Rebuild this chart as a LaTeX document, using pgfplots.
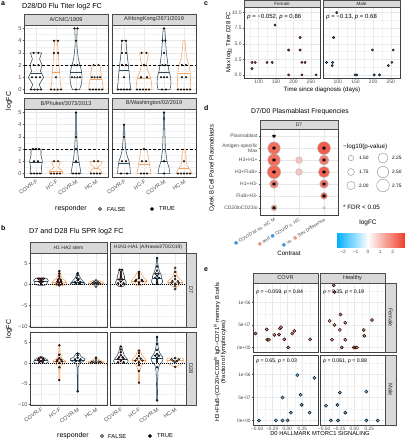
\documentclass[border=0pt]{standalone}
\usepackage{pgfplots}
\pgfplotsset{compat=1.18}
\usepackage{fontspec}
\setmainfont{Liberation Sans}
\newfontfamily\dv{DejaVu Sans}
\newcommand\fs[1]{\fontsize{#1}{#1}\selectfont}
\definecolor{COVR}{RGB}{47,72,88}
\definecolor{HC}{RGB}{244,164,96}
\definecolor{Fd}{RGB}{150,32,30}
\definecolor{Fl}{RGB}{214,168,158}
\definecolor{Md}{RGB}{30,92,142}
\definecolor{Ml}{RGB}{150,190,215}
\definecolor{stripg}{RGB}{217,217,217}
\definecolor{cF}{RGB}{214,80,60}
\definecolor{cM}{RGB}{50,140,210}
\definecolor{eF}{RGB}{228,122,104}
\definecolor{eM}{RGB}{92,170,225}
\definecolor{Mb}{RGB}{70,150,220}
\definecolor{Fp}{RGB}{232,150,140}
\pgfplotsset{colormap={lfc}{rgb255(0cm)=(0,175,255); rgb255(2.5cm)=(255,255,255); rgb255(5.5cm)=(238,60,40)}}
\pgfplotsset{
  gg/.style={scale only axis, anchor=north west,
    axis line style={draw=black!75, line width=0.45pt},
    tick align=outside, major tick length=1.4pt, minor tick length=0pt,
    tick style={draw=black!65, line width=0.4pt},
    xtick pos=lower, ytick pos=left,
    grid=major, major grid style={draw=black!9, line width=0.45pt},
    ticklabel style={font=\fs{5.6}, text=black!70, inner sep=0.8pt},
    /pgf/number format/assume math mode=true},
  ggminor/.style={grid=both, minor grid style={draw=black!5, line width=0.25pt}},
  viol/.style={xmin=0.4, xmax=4.6, xtick={1,2,3,4}},
  noxlab/.style={xmajorticks=false, xticklabels={,,,,,}},
  noylab/.style={ymajorticks=false, yticklabels={,,,,,}},
  catlab/.style={xticklabels={COVR-F,HC-F,COVR-M,HC-M}, xticklabel style={rotate=35, anchor=north east, font=\fs{5.5}, text=black!70, inner sep=0.5pt}},
  pt/.style={only marks, mark=*, mark size=0.85pt, mark options={draw=none, fill=#1}},
  ptb/.style={only marks, mark=*, mark size=1.0pt, mark options={draw=none, fill=#1}},
}
\newcommand\violin[5]{%
  \pgfmathsetmacro\vxa{#1-#4}\pgfmathsetmacro\vxb{#1+#4}%
  \xdef\vL{(\vxa,#3)}\xdef\vR{(\vxb,#3)(\vxa,#3)}%
  \foreach \yy/\ww in {#5}{%
    \pgfmathsetmacro\vxa{#1-\ww}\pgfmathsetmacro\vxb{#1+\ww}%
    \xdef\vL{\vL(\vxa,\yy)}\xdef\vR{(\vxb,\yy)\vR}}%
  \edef\vtemp{\noexpand\addplot[draw=#2, line width=0.55pt, mark=none] coordinates {\vL\vR};}%
  \vtemp}
\newcommand\qline[4]{%
  \pgfmathsetmacro\vxa{#1-#3}\pgfmathsetmacro\vxb{#1+#3}%
  \edef\vtemp{\noexpand\addplot[draw=#4, line width=0.5pt, mark=none] coordinates {(\vxa,#2)(\vxb,#2)};}\vtemp}
\newcommand\strip[6][5.6]{%
  \draw[fill=stripg, draw=black!70, line width=0.45pt] (#2,#3) rectangle (#4,#5);
  \node[font=\fs{#1}, text=black!85, inner sep=0pt] at ({(#2+#4)/2},{(#3+#5)/2}) {#6};}
\newcommand\vstrip[6][5.6]{%
  \draw[fill=stripg, draw=black!70, line width=0.45pt] (#2,#3) rectangle (#4,#5);
  \node[font=\fs{#1}, text=black!85, inner sep=0pt, rotate=-90] at ({(#2+#4)/2},{(#3+#5)/2}) {#6};}
\newcommand\dotc[1]{{\dv\textcolor{#1}{●}}}
\begin{document}
\begin{tikzpicture}
\useasboundingbox (0,0) rectangle (406pt,-440pt);
% ================= panel a =================
\begin{axis}[gg, ggminor, viol, noxlab, at={(24pt,-25pt)}, width=84pt, height=68pt, ymin=-0.28, ymax=5.28,
  ytick={0,1,2,3,4,5}, yticklabels={0,1,2,3,4,5}, minor ytick={0.5,1.5,2.5,3.5,4.5}]
\violin{1}{COVR}{0}{0.28}{0.4/0.16, 1/0.38, 1.5/0.22, 2/0.3, 2.5/0.18, 3/0.28}
\qline{1}{1.35}{0.3}{COVR}
\violin{2}{HC}{0}{0.28}{0.5/0.22, 1/0.2, 1.5/0.18, 2/0.15, 3/0.12, 3.5/0.09, 4/0.06}
\qline{2}{1.4}{0.18}{HC}
\violin{3}{COVR}{0}{0.18}{0.5/0.28, 1/0.3, 1.5/0.28, 2/0.2, 2.5/0.12, 3/0.08, 3.5/0.05, 4/0.04, 4.5/0.05, 5/0.06}
\qline{3}{1.45}{0.28}{COVR}
\violin{4}{HC}{0}{0.38}{0.4/0.34, 1/0.28, 1.5/0.24, 2/0.2}
\qline{4}{0.85}{0.3}{HC}
\addplot[black, line width=0.6pt, dash pattern=on 2.6pt off 2pt] coordinates {(0.4,2)(4.6,2)};
\addplot[pt=Fd] coordinates {(0.88,3)(1.12,3)(0.88,2)(1.12,2)(1.9,4)(2.1,4)(1.9,3)(2.1,3)};
\addplot[pt=Fl] coordinates {(0.8,1)(1,1)(1.2,1)(0.75,0)(0.92,0)(1.08,0)(1.25,0)(2,1)(1.75,0)(1.92,0)(2.08,0)(2.25,0)};
\addplot[pt=Md] coordinates {(2.92,5)(3.08,5)(3,4)(2.92,2)(3.08,2)};
\addplot[pt=Ml] coordinates {(2.8,1)(2.93,1)(3.07,1)(3.2,1)(3,0)(3.88,2)(4.12,2)(3.8,1)(3.93,1)(4.07,1)(4.2,1)(3.7,0)(3.85,0)(4,0)(4.15,0)(4.3,0)};
\end{axis}
\begin{axis}[gg, ggminor, viol, noxlab, noylab, at={(112pt,-25pt)}, width=84pt, height=68pt, ymin=-0.28, ymax=5.28,
  ytick={0,1,2,3,4,5}, minor ytick={0.5,1.5,2.5,3.5,4.5}]
\violin{1}{COVR}{0}{0.35}{0.5/0.3, 1/0.28, 1.5/0.25, 2/0.22, 2.5/0.18, 3/0.15, 3.5/0.12, 4/0.1}
\qline{1}{1.55}{0.25}{COVR}
\violin{2}{HC}{0}{0.4}{0.5/0.38, 1/0.33, 1.5/0.2, 2/0.12, 2.5/0.18, 3/0.22}
\qline{2}{0.95}{0.33}{HC}
\violin{3}{COVR}{0}{0.3}{0.5/0.35, 1/0.33, 1.5/0.25, 2/0.2, 3/0.12, 4/0.08, 5/0.04}
\qline{3}{1.4}{0.26}{COVR}
\violin{4}{HC}{0}{0.35}{0.5/0.33, 1/0.32, 1.5/0.3, 2/0.25, 2.5/0.15, 3/0.1, 3.5/0.07, 4/0.05}
\qline{4}{1.3}{0.3}{HC}
\addplot[black, line width=0.6pt, dash pattern=on 2.6pt off 2pt] coordinates {(0.4,2)(4.6,2)};
\addplot[pt=Fd] coordinates {(0.9,4)(1.1,4)(0.9,3)(1.1,3)(0.9,2)(1.1,2)(1.88,3)(2.12,3)(2,2)(1.85,1)(2.15,1)};
\addplot[pt=Fl] coordinates {(1,1)(0.7,0)(0.85,0)(1,0)(1.15,0)(1.3,0)(1.65,0)(1.8,0)(1.95,0)(2.1,0)(2.25,0)};
\addplot[pt=Md] coordinates {(3,5)(2.93,4)(3.07,4)(3,3)(2.92,2)(3.08,2)};
\addplot[pt=Ml] coordinates {(2.85,1)(3,1)(3.15,1)(2.9,0)(3.1,0)(3.9,2)(4.1,2)(3.9,1)(4.1,1)(3.7,0)(3.85,0)(4,0)(4.15,0)(4.3,0)};
\end{axis}
\begin{axis}[gg, ggminor, viol, catlab, at={(24pt,-109pt)}, width=84pt, height=68pt, ymin=-0.28, ymax=5.28,
  ytick={0,1,2,3,4,5}, yticklabels={0,1,2,3,4,5}, minor ytick={0.5,1.5,2.5,3.5,4.5}]
\violin{1}{COVR}{0}{0.3}{0.5/0.27, 1/0.32, 1.5/0.25, 2/0.25}
\qline{1}{0.9}{0.32}{COVR}
\violin{2}{HC}{0}{0.35}{0.25/0.3, 0.5/0.12, 0.75/0.18, 1/0.22}
\qline{2}{0.15}{0.33}{HC}
\violin{3}{COVR}{0}{0.25}{0.5/0.2, 1/0.15, 1.5/0.1, 2/0.07, 3/0.04, 4/0.03, 5/0.03}
\qline{3}{0.9}{0.16}{COVR}
\violin{4}{HC}{0}{0.3}{0.25/0.25, 0.5/0.08, 0.75/0.25, 1/0.3}
\qline{4}{0.45}{0.1}{HC}
\addplot[black, line width=0.6pt, dash pattern=on 2.6pt off 2pt] coordinates {(0.4,2)(4.6,2)};
\addplot[pt=Fd] coordinates {(0.85,2)(1,2)(1.15,2)(0.9,1)(1.1,1)(1.75,0)(1.9,0)(2.05,0)(2.2,0)};
\addplot[pt=Fl] coordinates {(0.75,0)(0.9,0)(1.05,0)(1.2,0)(1.9,1)(2.1,1)};
\addplot[pt=Md] coordinates {(3,5)(3,3)(3,2)(3,1)};
\addplot[pt=Ml] coordinates {(2.85,0)(3,0)(3.15,0)(3.9,1)(4.1,1)(3.75,0)(3.9,0)(4.05,0)(4.2,0)};
\end{axis}
\begin{axis}[gg, ggminor, viol, catlab, noylab, at={(112pt,-109pt)}, width=84pt, height=68pt, ymin=-0.28, ymax=5.28,
  ytick={0,1,2,3,4,5}, minor ytick={0.5,1.5,2.5,3.5,4.5}]
\violin{1}{COVR}{0}{0.32}{0.5/0.3, 1/0.25, 1.5/0.15, 2/0.08, 3/0.04, 4/0.03}
\qline{1}{0.85}{0.26}{COVR}
\violin{2}{HC}{0}{0.35}{0.5/0.3, 1/0.25, 1.5/0.2, 2/0.15}
\qline{2}{0.8}{0.26}{HC}
\violin{3}{COVR}{0}{0.3}{0.5/0.25, 1/0.15, 2/0.07, 3/0.05, 4/0.03, 5/0.02}
\qline{3}{1.0}{0.15}{COVR}
\violin{4}{HC}{0}{0.4}{0.3/0.3, 0.7/0.15, 1/0.1, 1.5/0.1, 2/0.05}
\qline{4}{0.4}{0.27}{HC}
\addplot[black, line width=0.6pt, dash pattern=on 2.6pt off 2pt] coordinates {(0.4,2)(4.6,2)};
\addplot[pt=Fd] coordinates {(1,4)(1,3)(0.9,1)(1.1,1)(0.85,0)(1.15,0)};
\addplot[pt=Fl] coordinates {(2,2)(1.9,1)(2.1,1)(1.85,0)(2,0)(2.15,0)};
\addplot[pt=Md] coordinates {(3,5)(3,1)(3,0)};
\addplot[pt=Ml] coordinates {(4,1)(3.7,0)(3.85,0)(4,0)(4.15,0)(4.3,0)};
\end{axis}
% ================= panel b =================
\begin{axis}[gg, ggminor, viol, noxlab, at={(30pt,-253pt)}, width=77pt, height=74pt, ymin=-10.1, ymax=7.5,
  ytick={-10,-5,0,5}, yticklabels={−10,−5,0,5}, minor ytick={-7.5,-2.5,2.5}]
\violin{1}{COVR}{-0.2}{0.15}{0/0.3, 0.5/0.36, 1/0.4, 1.5/0.3}
\qline{1}{0.7}{0.38}{COVR}
\violin{2}{HC}{-0.3}{0.05}{0/0.35, 0.5/0.4, 1/0.3, 1.5/0.15, 2/0.1, 2.5/0.06, 3.2/0.03}
\qline{2}{0.6}{0.4}{HC}
\violin{3}{COVR}{0}{0.2}{0.3/0.4, 0.7/0.3, 1/0.25, 1.5/0.15, 2/0.1, 2.7/0.03}
\qline{3}{0.5}{0.36}{COVR}
\violin{4}{HC}{-0.6}{0.03}{-0.2/0.1, 0/0.3, 0.3/0.42, 0.6/0.35, 1/0.15}
\qline{4}{0.3}{0.42}{HC}
\addplot[black, line width=0.5pt, dash pattern=on 0.8pt off 1.2pt] coordinates {(0.4,0)(4.6,0)};
\addplot[ptb=Fd] coordinates {(0.85,1.4)(0.95,1.4)(1.05,1.4)(1.15,1.4)(1,1.0)(0.9,0.7)(1.1,0.7)(1,0.4)(1,0.1)
 (2,3.2)(2,2.6)(2,2.0)(2,1.5)(1.92,1.1)(2.08,1.1)(1.9,0.7)(2.1,0.7)(2,0.4)(1.85,0.1)(2.15,0.1)(2,-0.2)};
\addplot[ptb=Md] coordinates {(3,2.7)(3,2.2)(2.95,1.6)(3.05,1.3)(3,1.0)(2.85,0.6)(3.15,0.6)(2.9,0.3)(3.1,0.3)};
\addplot[ptb=Ml] coordinates {(4,1.0)(3.9,0.6)(4.1,0.6)(3.8,0.3)(4,0.3)(4.2,0.3)(3.9,0.1)(4.1,0.1)(4,-0.5)};
\end{axis}
\begin{axis}[gg, ggminor, viol, noxlab, noylab, at={(110pt,-253pt)}, width=76pt, height=74pt, ymin=-10.1, ymax=7.5,
  ytick={-10,-5,0,5}, minor ytick={-7.5,-2.5,2.5}]
\violin{1}{COVR}{-0.5}{0.1}{0/0.25, 0.5/0.3, 1/0.25, 1.5/0.2, 2/0.2, 2.5/0.15, 3/0.12, 3.5/0.1}
\qline{1}{1.3}{0.22}{COVR}
\violin{2}{HC}{-0.3}{0.08}{0/0.25, 0.5/0.4, 1/0.42, 1.5/0.3, 2/0.2, 2.5/0.15, 3/0.1}
\qline{2}{0.9}{0.42}{HC}
\violin{3}{COVR}{0}{0.2}{0.5/0.3, 1/0.3, 1.5/0.25, 2/0.25, 2.5/0.2, 3/0.15, 4/0.08, 5/0.04, 6.3/0.02}
\qline{3}{1.6}{0.25}{COVR}
\violin{4}{HC}{-1.2}{0.03}{-0.5/0.1, 0/0.3, 0.5/0.42, 1/0.35, 1.5/0.2, 2/0.12, 3/0.06, 4/0.03}
\qline{4}{0.6}{0.42}{HC}
\addplot[black, line width=0.5pt, dash pattern=on 0.8pt off 1.2pt] coordinates {(0.4,0)(4.6,0)};
\addplot[ptb=Fd] coordinates {(0.93,3.5)(1.07,3.5)(1,3.0)(1,2.5)(1,2.0)(1,1.6)(0.9,1.2)(1.1,1.2)(1,0.7)(0.85,0.3)(1.15,0.3)(1,-0.3)
 (2,3)(2,2.5)(2,2)(2,1.5)(1.85,1.1)(2.15,1.1)(1.8,0.8)(2.2,0.8)(2,0.5)(2,0.1)};
\addplot[ptb=Md] coordinates {(3,6.3)(3,4.3)(3,3.3)(2.92,2.6)(3.08,2.6)(3,2.1)(2.9,1.6)(3.1,1.6)(3,1.1)(3,0.6)(3,0.2)};
\addplot[ptb=Ml] coordinates {(4,4)(4,3)(4,2)(4,1.3)(3.85,0.8)(4.15,0.8)(3.8,0.4)(4.2,0.4)(4,0.1)(4,-0.4)(4,-1.1)};
\end{axis}
\begin{axis}[gg, ggminor, viol, catlab, at={(30pt,-332pt)}, width=77pt, height=73pt, ymin=-10.1, ymax=7.5,
  ytick={-10,-5,0,5}, yticklabels={−10,−5,0,5}, minor ytick={-7.5,-2.5,2.5}]
\violin{1}{COVR}{0}{0.3}{0.3/0.4, 0.8/0.35, 1.2/0.2, 1.5/0.1}
\qline{1}{0.6}{0.38}{COVR}
\violin{2}{HC}{-4.2}{0.02}{-2/0.03, -0.5/0.08, 0/0.3, 0.5/0.35, 1/0.15, 2/0.06, 3/0.03, 4.3/0.02}
\qline{2}{0.4}{0.35}{HC}
\violin{3}{COVR}{-6.8}{0.02}{-4/0.02, -1/0.03, 0/0.1, 0.5/0.35, 1/0.4, 1.5/0.2, 2.3/0.1}
\qline{3}{0.8}{0.4}{COVR}
\violin{4}{HC}{-0.2}{0.1}{0/0.35, 0.3/0.45, 0.7/0.2, 1.3/0.05}
\qline{4}{0.25}{0.45}{HC}
\addplot[black, line width=0.5pt, dash pattern=on 0.8pt off 1.2pt] coordinates {(0.4,0)(4.6,0)};
\addplot[ptb=Fd] coordinates {(1,1.4)(0.9,1.1)(1.1,1.1)(0.85,0.8)(1.15,0.8)(1,0.5)(0.9,0.3)(1.1,0.3)
 (2,4.3)(2,2.0)(2,1.2)(1.9,0.8)(2.1,0.8)(1.85,0.4)(2.15,0.4)(2,0)(2,-1)(2,-4.1)};
\addplot[ptb=Md] coordinates {(3,2.3)(3,1.9)(3,1.3)(2.85,0.9)(3.15,0.9)(2.9,0.5)(3.1,0.5)(3,-6.8)};
\addplot[ptb=Ml] coordinates {(4,1.3)(4,0.7)(3.85,0.35)(4.15,0.35)(3.75,0.2)(4,0.15)(4.25,0.2)};
\end{axis}
\begin{axis}[gg, ggminor, viol, catlab, noylab, at={(110pt,-332pt)}, width=76pt, height=73pt, ymin=-10.1, ymax=7.5,
  ytick={-10,-5,0,5}, minor ytick={-7.5,-2.5,2.5}]
\violin{1}{COVR}{0}{0.35}{0.5/0.4, 1/0.35, 1.5/0.25, 2/0.18, 3/0.1, 4/0.05}
\qline{1}{1.0}{0.35}{COVR}
\violin{2}{HC}{-4.7}{0.02}{-2/0.04, -0.5/0.15, 0/0.3, 0.5/0.4, 1/0.35, 2/0.15, 3/0.08}
\qline{2}{0.6}{0.4}{HC}
\violin{3}{COVR}{-9}{0.02}{-5/0.03, -2/0.05, -0.5/0.12, 0.5/0.3, 1/0.33, 1.5/0.3, 2/0.2, 3/0.1, 4/0.06, 5/0.04, 6.3/0.02}
\qline{3}{1.2}{0.33}{COVR}
\violin{4}{HC}{-1}{0.05}{-0.5/0.2, 0/0.4, 0.5/0.45, 1/0.45, 1.2/0.4}
\qline{4}{0.6}{0.45}{HC}
\addplot[black, line width=0.5pt, dash pattern=on 0.8pt off 1.2pt] coordinates {(0.4,0)(4.6,0)};
\addplot[ptb=Fd] coordinates {(1,4)(1,3.3)(1,2.6)(1,1.9)(0.9,1.4)(1.1,1.4)(0.85,1.0)(1.15,1.0)(1,0.6)(0.85,0.2)(1.15,0.2)
 (2,3)(2,2.4)(2,1.7)(1.9,1.1)(2.1,1.1)(1.8,0.6)(2.2,0.6)(2,0.2)(2,-0.5)(2,-1.9)(2,-4.7)};
\addplot[ptb=Md] coordinates {(3,6.3)(3,4.6)(3,3.2)(3,2.2)(2.9,1.8)(3.1,1.8)(3,1.3)(3,0.8)(3,0.3)(3,-1)(3,-9)};
\addplot[ptb=Ml] coordinates {(4,1.2)(3.8,0.9)(4.2,0.9)(3.9,0.5)(4.1,0.5)(4,0.2)(4,-0.9)};
\end{axis}
% ================= panel c =================
\begin{axis}[gg, ggminor, at={(244pt,-7pt)}, width=76pt, height=71pt, xmin=58, xmax=276, ymin=-0.5, ymax=10.9,
  xtick={100,150,200,250}, xticklabels={100,150,200,250}, minor xtick={75,125,175,225,275},
  ytick={0,2.5,5,7.5,10}, yticklabels={0.0,2.5,5.0,7.5,10.0}, minor ytick={1.25,3.75,6.25,8.75},
  ticklabel style={font=\fs{5}}]
\addplot[only marks, mark=*, mark size=1.15pt, mark options={draw=none, fill=cF}] coordinates {
(81,2)(90,2)(81,1)(124,2)(139,2)(147,8)(186,4)(186,0)(219,6)(219,4)(224,2)(233,2)(224,0)(265,0)};
\end{axis}
\begin{axis}[gg, ggminor, noylab, at={(323pt,-7pt)}, width=77pt, height=71pt, xmin=58, xmax=276, ymin=-0.5, ymax=10.9,
  xtick={100,150,200,250}, xticklabels={100,150,200,250}, minor xtick={75,125,175,225,275},
  ytick={0,2.5,5,7.5,10}, minor ytick={1.25,3.75,6.25,8.75}, ticklabel style={font=\fs{5}}]
\addplot[only marks, mark=*, mark size=1.15pt, mark options={draw=none, fill=cM}] coordinates {
(68,2)(85,2)(84,1.5)(88,6)(97,10)(149,0)(154,0)(198,4)(203,0)(218,0)(243,1.5)(253,2)(257,4)};
\end{axis}
% ================= panel d =================
\begin{axis}[gg, at={(260pt,-129pt)}, width=78pt, height=86pt, xmin=0.44, xmax=3.56, ymin=0.4, ymax=7.6, y dir=reverse,
  xtick={1,2,3}, ytick={1,2,3,4,5,6,7},
  xticklabels={{\dotc{Mb} COVID M vs. HC M},{\dotc{Fp} and \dotc{Mb} COVID v. HC},{\dotc{Mb} vs. \dotc{Fp} Sex Difference}},
  yticklabels={Plasmablast,{Antigen-specific\\Max},H3+H1+,H3+FluB+,H1+H3-,FluB+H3-,CD20loCD21lo},
  xticklabel style={rotate=32, anchor=north east, font=\fs{4.8}, text=black!70},
  yticklabel style={align=right, font=\fs{5}, text=black!70},
  colormap name=lfc, point meta min=-2.5, point meta max=3, clip=false]
\addplot[scatter, only marks, mark=*, scatter src=explicit,
  scatter/use mapped color={draw=black!30, fill=mapped color},
  visualization depends on={\thisrow{s} \as \msize},
  scatter/@pre marker code/.append style={/tikz/mark size=\msize, /tikz/line width=0.3pt}]
  table[x=x, y=y, meta=c] {
x y c s
1 2 2.2 6.2
3 2 2.5 6.4
1 3 2.2 6.2
2 3 0.9 3.3
3 3 2.0 4.9
1 4 2.3 6.7
2 4 0.9 3.3
3 4 2.4 5.6
1 5 1.9 4.3
3 5 2.1 4.3
3 6 2.2 3.4
1 7 1.3 3.0
3 7 0.6 1.4
};
\addplot[only marks, mark=asterisk, mark size=1.9pt, mark options={draw=black, line width=0.6pt}] coordinates {
(1,1)(1,2)(1,3)(1,4)(1,5)(1,7)(3,2)(3,3)(3,4)(3,5)(3,6)};
\end{axis}
\begin{axis}[scale only axis, anchor=north west, at={(337pt,-233pt)}, width=68pt, height=14pt,
  xmin=-2.5, xmax=3, ymin=0, ymax=1, view={0}{90}, axis line style={draw=none},
  ytick=\empty, ztick=\empty, xtick={-2,-1,0,1,2}, xticklabels={−2,−1,0,1,2}, xtick pos=lower,
  major tick length=0pt, ticklabel style={font=\fs{4.8}, text=black!70},
  colormap name=lfc, point meta min=-2.5, point meta max=3]
\addplot3[surf, shader=interp, point meta=x, mesh/rows=2] coordinates {
(-2.5,0,0)(-2,0,0)(-1.5,0,0)(-1,0,0)(-0.5,0,0)(0,0,0)(0.5,0,0)(1,0,0)(1.5,0,0)(2,0,0)(2.5,0,0)(3,0,0)
(-2.5,1,0)(-2,1,0)(-1.5,1,0)(-1,1,0)(-0.5,1,0)(0,1,0)(0.5,1,0)(1,1,0)(1.5,1,0)(2,1,0)(2.5,1,0)(3,1,0)};
\end{axis}
% ================= panel e =================
\begin{axis}[gg, ggminor, noxlab, at={(253pt,-283pt)}, width=65pt, height=69pt, xmin=-0.57, xmax=0.51, ymin=-0.1, ymax=1.43,
  xtick={-0.5,-0.25,0,0.25}, minor xtick={-0.375,-0.125,0.125,0.375},
  ytick={0,0.5,1}, yticklabels={0e+00,5e-07,1e-06}, minor ytick={0.25,0.75,1.25}, ticklabel style={font=\fs{4.8}}]
\addplot[only marks, mark=*, mark size=1.6pt, mark options={draw=none, fill=eF}] coordinates {
(-0.527,0.31)(-0.343,0.40)(-0.333,0.17)(-0.305,0.17)(-0.216,0.28)(-0.138,0.29)(-0.122,0.42)(-0.105,0.45)(-0.05,0.18)(0.017,0.0)(0.083,0.31)(0.117,0.37)(0.378,0.18)};
\end{axis}
\begin{axis}[gg, ggminor, noxlab, noylab, at={(320pt,-283pt)}, width=65pt, height=69pt, xmin=-0.57, xmax=0.51, ymin=-0.1, ymax=1.43,
  xtick={-0.5,-0.25,0,0.25}, minor xtick={-0.375,-0.125,0.125,0.375},
  ytick={0,0.5,1}, minor ytick={0.25,0.75,1.25}]
\addplot[only marks, mark=*, mark size=1.6pt, mark options={draw=none, fill=eF}] coordinates {
(-0.34,1.38)(-0.33,1.23)(-0.41,0.59)(-0.33,0.50)(-0.23,0.73)(-0.24,0.39)(-0.15,0.55)(-0.15,0.17)(-0.37,0.17)(-0.21,0.0)(-0.01,0.0)(0.017,0.0)(0.045,0.0)(0.295,0.61)(0.157,0.39)(0.167,0.26)};
\end{axis}
\begin{axis}[gg, ggminor, at={(253pt,-355pt)}, width=65pt, height=70pt, xmin=-0.57, xmax=0.51, ymin=-0.1, ymax=1.43,
  xtick={-0.5,-0.25,0,0.25}, xticklabels={−0.50,−0.25,0.00,0.25}, minor xtick={-0.375,-0.125,0.125,0.375},
  ytick={0,0.5,1}, yticklabels={0e+00,5e-07,1e-06}, minor ytick={0.25,0.75,1.25}, ticklabel style={font=\fs{4.8}}]
\addplot[only marks, mark=*, mark size=1.6pt, mark options={draw=none, fill=eM}] coordinates {
(-0.47,0)(-0.19,0)(-0.08,0)(0.005,0)(-0.08,0.5)(0.06,0.17)(0.167,0.99)(0.22,0.56)(0.24,0.34)(0.37,0.17)(0.45,0.93)};
\end{axis}
\begin{axis}[gg, ggminor, noylab, at={(320pt,-355pt)}, width=65pt, height=70pt, xmin=-0.57, xmax=0.51, ymin=-0.1, ymax=1.43,
  xtick={-0.5,-0.25,0,0.25}, xticklabels={−0.50,−0.25,0.00,0.25}, minor xtick={-0.375,-0.125,0.125,0.375},
  ytick={0,0.5,1}, minor ytick={0.25,0.75,1.25}, ticklabel style={font=\fs{4.8}}]
\addplot[only marks, mark=*, mark size=1.6pt, mark options={draw=none, fill=eM}] coordinates {
(-0.47,0.32)(-0.39,0)(-0.28,0.34)(-0.24,0.61)(-0.15,0.17)(-0.27,0)(0.2,0.63)(0.2,0)(0.39,0)};
\end{axis}
% ================= legend keys (overlay axis in page pixels) =================
\begin{axis}[scale only axis, anchor=north west, at={(0pt,0pt)}, width=406pt, height=440pt,
  xmin=0, xmax=406, ymin=0, ymax=440, y dir=reverse, hide axis, clip=false]
\addplot[only marks, mark=*, mark size=1.6pt, mark options={draw=none, fill=black!35}] coordinates {(100,209)(102,436)};
\addplot[only marks, mark=*, mark size=1.6pt, mark options={draw=none, fill=black}] coordinates {(152,209)(150,436)};
\addplot[only marks, mark=*, mark size=2.7pt, mark options={draw=black!45, fill=white, line width=0.4pt}] coordinates {(351,158)};
\addplot[only marks, mark=*, mark size=3.4pt, mark options={draw=black!45, fill=white, line width=0.4pt}] coordinates {(351,172)};
\addplot[only marks, mark=*, mark size=4.1pt, mark options={draw=black!45, fill=white, line width=0.4pt}] coordinates {(351,185.5)};
\addplot[only marks, mark=*, mark size=5.0pt, mark options={draw=black!45, fill=white, line width=0.4pt}] coordinates {(383,158)};
\addplot[only marks, mark=*, mark size=5.7pt, mark options={draw=black!45, fill=white, line width=0.4pt}] coordinates {(383,172)};
\addplot[only marks, mark=*, mark size=6.3pt, mark options={draw=black!45, fill=white, line width=0.4pt}] coordinates {(383,185.5)};
\end{axis}
% ================= strips and texts =================
\begin{scope}[x=1pt,y=-1pt]
% a
\node[anchor=west, font=\fs{7}\bfseries, inner sep=0pt] at (1,4) {a};
\node[anchor=west, font=\fs{7.2}, inner sep=0pt] at (22,7) {D28/D0 Flu Titer log2 FC};
\strip{24}{14}{108}{25}{A/CNIC/1909}
\strip{112}{14}{196}{25}{A/HongKong/2671/2019}
\strip{24}{98}{108}{109}{B/Phuket/3073/2013}
\strip{112}{98}{196}{109}{B/Washington/02/2019}
\node[rotate=90, font=\fs{7}, inner sep=0pt] at (9,101) {logFC};
\node[anchor=west, font=\fs{7}, inner sep=0pt] at (55,209) {responder};
\node[anchor=west, font=\fs{5.8}, inner sep=0pt] at (107,209) {FALSE};
\node[anchor=west, font=\fs{5.8}, inner sep=0pt] at (159,209) {TRUE};
% b
\node[anchor=west, font=\fs{7}\bfseries, inner sep=0pt] at (1,228) {b};
\node[anchor=west, font=\fs{7.2}, inner sep=0pt] at (29,232) {D7 and D28 Flu SPR log2 FC};
\strip[5]{30}{242}{107}{253}{H1 HA2 stem}
\strip[5]{110}{242}{186}{253}{H1N1-HA1 (A/Hawaii/70/2019)}
\vstrip[5.6]{186}{253}{196}{327}{D7}
\vstrip[5.6]{186}{332}{196}{405}{D28}
\node[rotate=90, font=\fs{7}, inner sep=0pt] at (9,329) {logFC};
\node[anchor=west, font=\fs{7}, inner sep=0pt] at (57,436) {responder};
\node[anchor=west, font=\fs{5.8}, inner sep=0pt] at (108,436) {FALSE};
\node[anchor=west, font=\fs{5.8}, inner sep=0pt] at (157,436) {TRUE};
% c
\node[anchor=west, font=\fs{7}\bfseries, inner sep=0pt] at (204,4) {c};
\strip[4.6]{244}{0}{320}{7}{Female}
\strip[4.6]{323}{0}{400}{7}{Male}
\node[anchor=west, font=\fs{6}, inner sep=0pt] at (247,17) {\textit{ρ} = −0.052, \textit{p} = 0.86};
\node[anchor=west, font=\fs{6}, inner sep=0pt] at (326,17) {\textit{ρ} = −0.13, \textit{p} = 0.68};
\node[rotate=90, font=\fs{6}, inner sep=0pt] at (229,42) {Max log\textsubscript{2} Titer D28 FC};
\node[font=\fs{6.2}, inner sep=0pt] at (322,90) {Time since diagnosis (days)};
% d
\node[anchor=west, font=\fs{7}\bfseries, inner sep=0pt] at (204,108) {d};
\node[font=\fs{6.8}, inner sep=0pt] at (300,112) {D7/D0 Plasmablast Frequencies};
\strip[5]{260}{120}{338}{129}{D7}
\node[rotate=90, font=\fs{6}, inner sep=0pt] at (212,168) {Cytek B Cell Panel Plasmablasts};
\node[font=\fs{6.2}, inner sep=0pt] at (289,253) {Contrast};
\node[anchor=west, font=\fs{6.3}, inner sep=0pt] at (343,147) {−log10(p-value)};
\node[anchor=west, font=\fs{4.8}, inner sep=0pt] at (359,158) {1.50};
\node[anchor=west, font=\fs{4.8}, inner sep=0pt] at (359,172) {1.75};
\node[anchor=west, font=\fs{4.8}, inner sep=0pt] at (359,185.5) {2.00};
\node[anchor=west, font=\fs{4.8}, inner sep=0pt] at (392,158) {2.25};
\node[anchor=west, font=\fs{4.8}, inner sep=0pt] at (392,172) {2.50};
\node[anchor=west, font=\fs{4.8}, inner sep=0pt] at (392,185.5) {2.75};
\node[anchor=west, font=\fs{6.3}, inner sep=0pt] at (343,207) {* FDR < 0.05};
\node[font=\fs{6.5}, inner sep=0pt] at (368,223) {logFC};
% e
\node[anchor=west, font=\fs{7}\bfseries, inner sep=0pt] at (204,270) {e};
\strip{253}{273}{318}{283}{COVR}
\strip{320}{273}{385}{283}{Healthy}
\vstrip{385}{283}{396}{352}{Female}
\vstrip{385}{355}{396}{425}{Male}
\node[anchor=west, font=\fs{5.2}, inner sep=0pt] at (256,292) {\textit{ρ} = −0.059, \textit{p} = 0.84};
\node[anchor=west, font=\fs{5.2}, inner sep=0pt] at (323,292) {\textit{ρ} = 0.35, \textit{p} = 0.19};
\node[anchor=west, font=\fs{5.2}, inner sep=0pt] at (256,361) {\textit{ρ} = 0.65, \textit{p} = 0.03};
\node[anchor=west, font=\fs{5.2}, inner sep=0pt] at (323,361) {\textit{ρ} = 0.061, \textit{p} = 0.88};
\node[rotate=90, align=center, font=\fs{5.8}, inner sep=0pt] at (220,352) {H3+FluB−(CD20+CD38\textsuperscript{lo} IgD−CD71\textsuperscript{hi} memory B cells\\(fraction of lymphocytes)};
\node[font=\fs{5.8}, inner sep=0pt] at (320,433) {D0 HALLMARK MTORC1 SIGNALING};
\end{scope}
\end{tikzpicture}
\end{document}
